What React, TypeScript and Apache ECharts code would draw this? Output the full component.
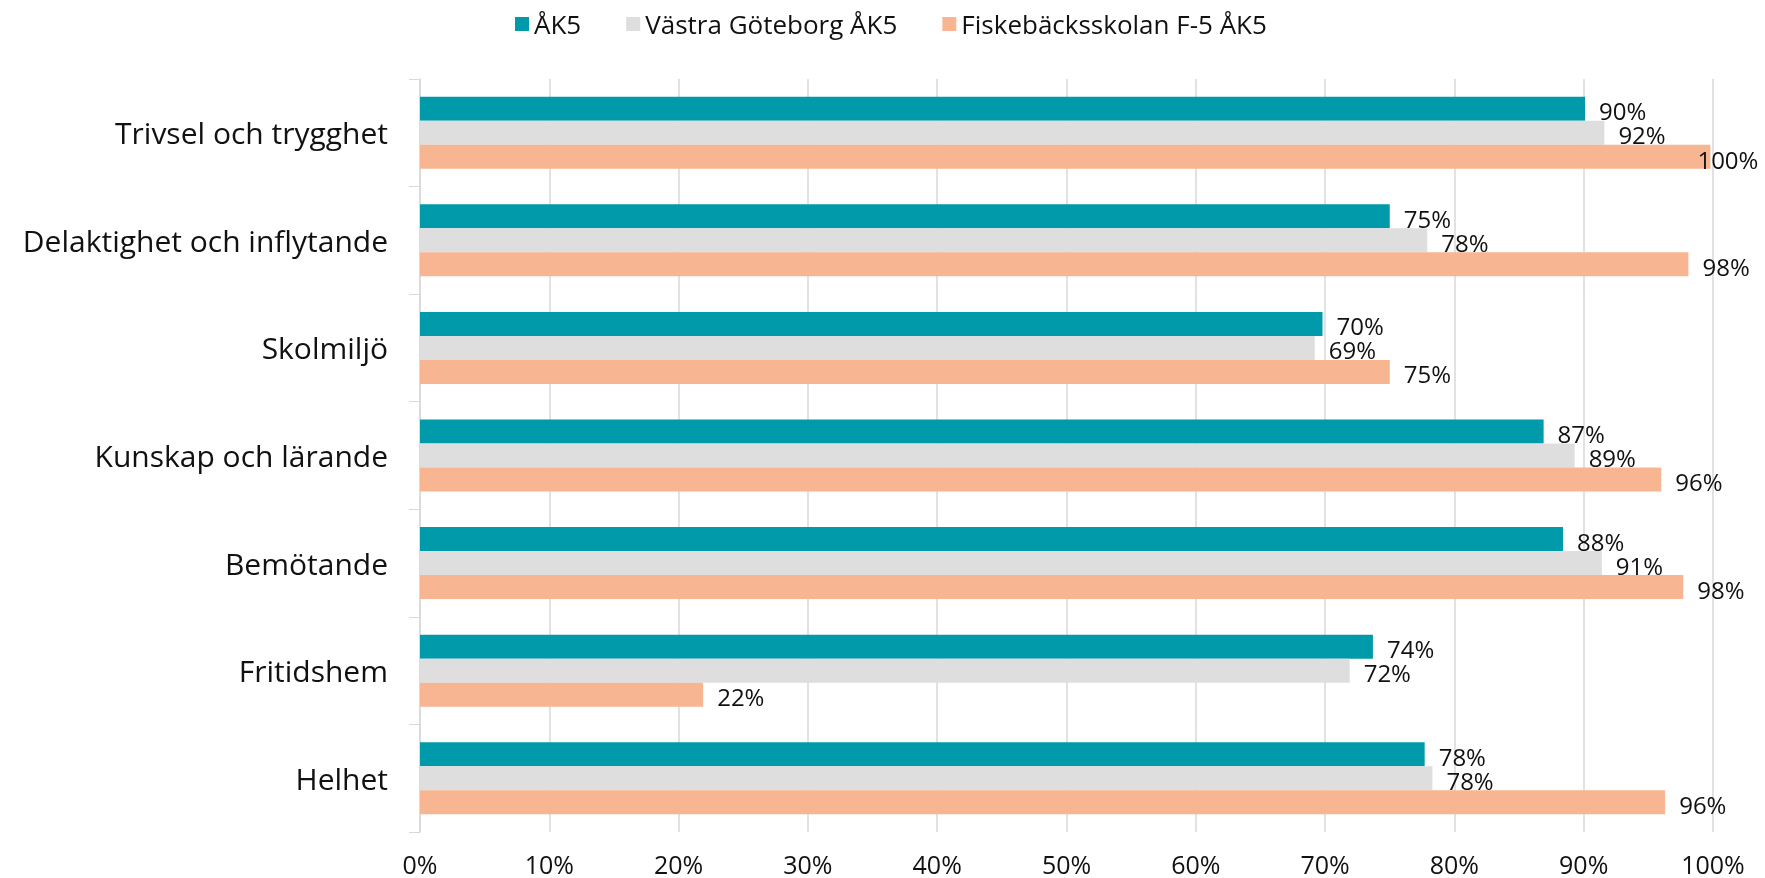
import React, { useEffect, useRef } from "react";
import * as echarts from "echarts";

const categories = [
  "Trivsel och trygghet",
  "Delaktighet och inflytande",
  "Skolmiljö",
  "Kunskap och lärande",
  "Bemötande",
  "Fritidshem",
  "Helhet",
];
const seriesNames = ["ÅK5", "Västra Göteborg ÅK5", "Fiskebäcksskolan F-5 ÅK5"];
const ak5 = [90.1, 75.0, 69.8, 86.9, 88.4, 73.7, 77.7];
const vastra = [91.6, 77.9, 69.2, 89.3, 91.4, 71.9, 78.3];
const fiske = [99.8, 98.1, 75.0, 96.0, 97.7, 21.9, 96.3];
const xTicks = [0, 10, 20, 30, 40, 50, 60, 70, 80, 90, 100];
const colors = ["#009aaa", "#dedede", "#f8b592"];

const FONT = "Open Sans";

export default function App() {
  const ref = useRef<HTMLDivElement>(null);
  useEffect(() => {
    const chart = echarts.init(ref.current!, null, { renderer: "svg" });
    const values = [ak5, vastra, fiske];
    chart.setOption({
      animation: false,
      textStyle: { fontFamily: FONT },
      legend: {
        data: seriesNames,
        top: 6,
        left: 510,
        itemWidth: 14,
        itemHeight: 14,
        itemGap: 45,
        icon: "rect",
        textStyle: { fontSize: 26, color: "#111", fontFamily: FONT },
      },
      grid: { left: 420, right: 52, top: 79, bottom: 46, containLabel: false },
      xAxis: {
        type: "value",
        min: xTicks[0],
        max: xTicks[xTicks.length - 1],
        interval: 10,
        axisLine: { show: false },
        axisTick: { show: false },
        splitLine: { show: true, lineStyle: { color: "#d9d9d9", width: 1.5 } },
        axisLabel: {
          formatter: "{value}%",
          fontSize: 25,
          lineHeight: 25,
          color: "#111",
          margin: 19,
          fontFamily: FONT,
        },
      },
      yAxis: {
        type: "category",
        inverse: true,
        data: categories,
        axisLine: { show: true, lineStyle: { color: "#d9d9d9", width: 1.5 } },
        axisTick: { show: true, length: 11, lineStyle: { color: "#d9d9d9" } },
        axisLabel: { fontSize: 30, color: "#111", margin: 32, fontFamily: FONT },
      },
      series: seriesNames.map((name, i) => ({
        name,
        type: "bar",
        data: values[i].map((v) =>
          v >= 99.5 ? { value: v, label: { offset: [-27, 3] } } : v
        ),
        barWidth: 24,
        barGap: "0%",
        itemStyle: { color: colors[i] },
        label: {
          show: true,
          position: "right",
          distance: 14,
          offset: [0, 2],
          fontSize: 24,
          color: "#111",
          fontFamily: FONT,
          formatter: (p: any) => Math.round(p.value) + "%",
        },
      })),
    });
    return () => chart.dispose();
  }, []);
  return (
    <div
      ref={ref}
      style={{ position: "fixed", left: 0, top: 0, width: 1765, height: 878 }}
    />
  );
}
